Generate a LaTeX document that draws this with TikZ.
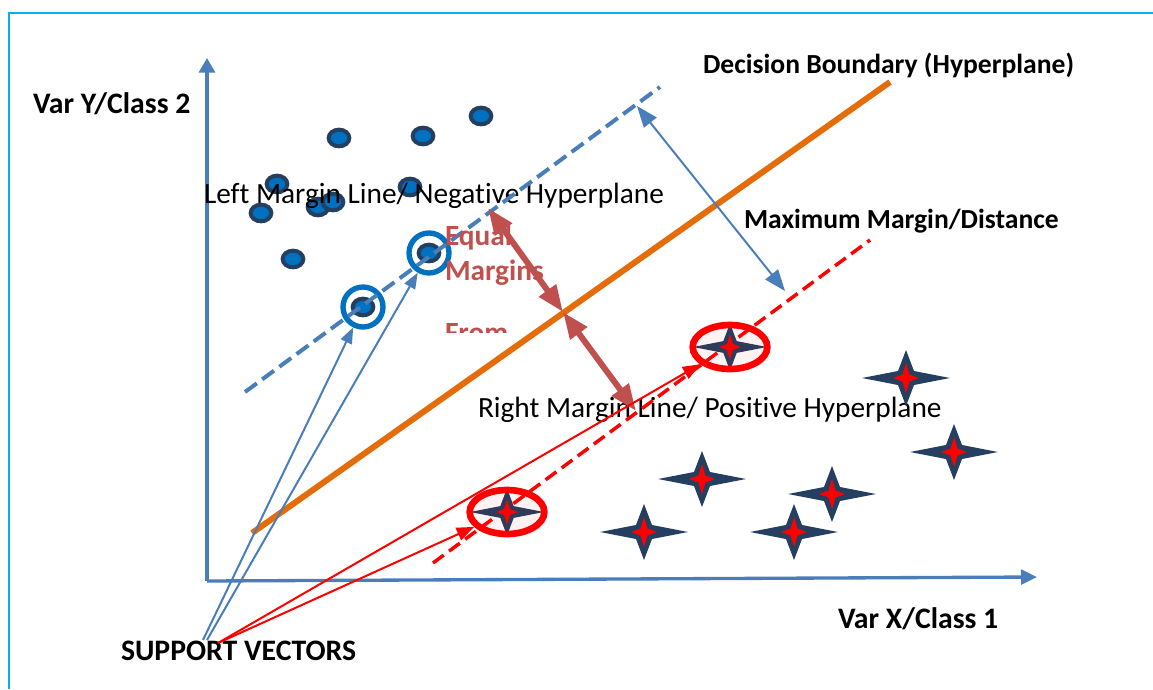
\documentclass[tikz,border=0pt]{standalone}
\usepackage{fontspec}
\setmainfont{Carlito}[Ligatures=NoCommon]
\usepackage{xcolor}
\usepackage{tikz}
\usetikzlibrary{arrows.meta,calc,positioning,shapes.geometric}
\definecolor{framecyan}{HTML}{00B0F0}
\definecolor{axisblue}{HTML}{4A7EBB}
\definecolor{hyporange}{HTML}{E46C0A}
\definecolor{dotnavy}{HTML}{243F60}
\definecolor{dotblue}{HTML}{0070C0}
\definecolor{marginred}{HTML}{C0504D}

\begin{document}
\begin{tikzpicture}[x=0.75pt,y=-0.75pt,line width=1.5pt,
    dot/.style={ellipse,draw=dotnavy,fill=dotblue,line width=3pt,minimum width=15.5pt,minimum height=12.5pt,inner sep=0pt},
    svring/.style={circle,draw=dotblue,line width=4pt,minimum size=30pt,inner sep=0pt},
    svoval/.style={ellipse,draw=red,fill=red,fill opacity=0.05,line width=5pt,minimum width=56pt,minimum height=33pt,inner sep=0pt},
    lbl/.style={anchor=base west,inner sep=0pt,font=\fontsize{22}{26}\selectfont},
    blbl/.style={lbl,font=\fontsize{20.7}{24}\selectfont\bfseries},
    bigblbl/.style={lbl,font=\fontsize{22.3}{26}\selectfont\bfseries},
    fourstar/.pic={
      \fill[dotnavy] (44,0) -- (8,7) -- (0,28) -- (-8,7) -- (-44,0) -- (-8,-7) -- (0,-28) -- (8,-7) -- cycle;
      \fill[red] (13,0) -- (3.5,3.5) -- (0,15) -- (-3.5,3.5) -- (-13,0) -- (-3.5,-3.5) -- (0,-15) -- (3.5,-3.5) -- cycle;
    }]
  \useasboundingbox (0,0) rectangle (1153,689);
  \draw[framecyan] (9,689) -- (9,13) -- (1153,13);

  % axes
  \coordinate (o) at (207,581);
  \coordinate (ytop) at (207,58);
  \coordinate (xend) at (1037,577);
  \draw[axisblue,line width=2.5pt,-{Triangle[length=11pt,width=12pt]}] (o) -- (ytop);
  \draw[axisblue,line width=2.5pt,-{Triangle[length=12pt,width=11pt]}] (o) -- (xend);

  % class 2 points
  \foreach \n/\px/\py in {1/339/138,2/423/136,3/481/116,4/277/184,5/410/187,6/261/213,7/318/207,8/333/202,9/293/259}
    \node[dot] (d\n) at (\px,\py) {};
  \node[svring] (sva) at (363,307) {};
  \node[dot] (dsa) at (363,307) {};
  \node[svring] (svb) at (429,253) {};
  \node[dot] (dsb) at (429,253) {};

  \node[lbl] (leftlbl) at (203,203) {Left Margin Line/ Negative Hyperplane};
  \node[lbl] (rightlbl) at (477,417) {Right Margin Line/ Positive Hyperplane};

  % margin lines and boundary
  \coordinate (lm1) at (245,392); \coordinate (lm2) at (660,87);
  \coordinate (db1) at (252,533); \coordinate (db2) at (890,82);
  \coordinate (rm1) at (433,563); \coordinate (rm2) at (870,240);
  \draw[axisblue,line width=3pt,dash pattern=on 11pt off 5pt] (lm1) -- (lm2);
  \draw[hyporange,line width=4.5pt] (db1) -- (db2);
  \draw[red,line width=2.6pt,dash pattern=on 10pt off 5pt] (rm1) -- (rm2);

  \begin{scope}
    \clip (430,215) rectangle (560,332);
    \node[lbl,text=marginred,font=\fontsize{22}{26}\selectfont\bfseries] (eq1) at (444,245) {Equal};
    \node[lbl,text=marginred,font=\fontsize{22}{26}\selectfont\bfseries] (eq2) at (444,280) {Margins};
    \node[lbl,text=marginred,font=\fontsize{22}{26}\selectfont\bfseries] (eq3) at (444,342) {From};
  \end{scope}

  % class 1 points
  \foreach \px/\py in {906/378,954/452,702/479,832/494,644/532,794/532}
    \pic at (\px,\py) {fourstar};
  \pic[scale=0.84] at (730,347) {fourstar};
  \pic[scale=0.84] at (507,512) {fourstar};
  \node[svoval] (svc) at (730,347) {};
  \node[svoval] (svd) at (507,512) {};

  % distances
  \coordinate (mm1) at (637,106); \coordinate (mm2) at (785,291);
  \draw[axisblue,{Triangle[length=16pt,width=12pt]}-{Triangle[length=16pt,width=12pt]}] (mm1) -- (mm2);
  \coordinate (em1) at (488,208); \coordinate (em2) at (563,312); \coordinate (em3) at (636,411);
  \draw[marginred,line width=4.5pt,{Triangle[length=20pt,width=15pt]}-{Triangle[length=20pt,width=15pt]}] (em1) -- (em2);
  \draw[marginred,line width=4.5pt,{Triangle[length=20pt,width=15pt]}-{Triangle[length=20pt,width=15pt]}] (em2) -- (em3);

  \node[bigblbl] (ylbl) at (32,113) {Var Y/Class 2};
  \node[bigblbl] (xlbl) at (837,628) {Var X/Class 1};
  \node[blbl] (dblbl) at (702,73) {Decision Boundary (Hyperplane)};
  \node[blbl] (mmlbl) at (743,228) {Maximum Margin/Distance};

  % support vectors
  \node[bigblbl] (svlbl) at (120,660) {SUPPORT VECTORS};
  \coordinate (sv1) at (203,640); \coordinate (sv2) at (207,640); \coordinate (sv3) at (218,643);
  \draw[axisblue,-{Triangle[length=12pt,width=9pt]}] (sv1) -- (sva);
  \draw[axisblue,-{Triangle[length=12pt,width=9pt]}] (sv2) -- (svb);
  \draw[red,-{Triangle[length=13pt,width=10pt]}] (sv3) -- (svd);
  \draw[red,-{Triangle[length=13pt,width=10pt]}] (sv3) -- (svc);
\end{tikzpicture}
\end{document}
